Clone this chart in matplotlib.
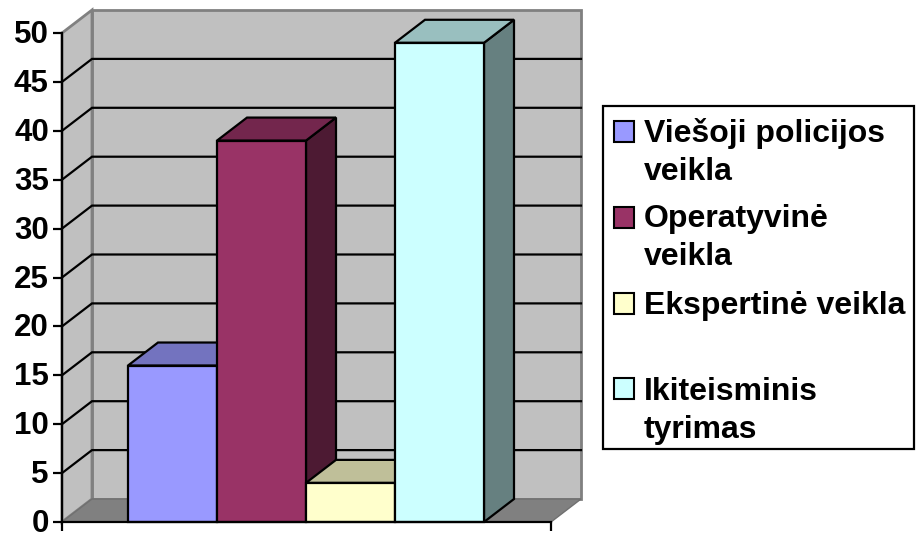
import matplotlib
matplotlib.use("Agg")
import matplotlib.pyplot as plt
from matplotlib.patches import Polygon, Rectangle
from matplotlib.transforms import ScaledTranslation

plt.rcParams['font.family'] = ['Liberation Sans', 'DejaVu Sans']

categories = ["Viešoji policijos\nveikla", "Operatyvinė\nveikla", "Ekspertinė veikla", "Ikiteisminis\ntyrimas"]
values = [16, 39, 4, 49]
front_colors = ["#9999FF", "#993366", "#FFFFCC", "#CCFFFF"]
top_colors = ["#7373BF", "#73264D", "#BFBF99", "#99BFBF"]
side_colors = ["#4D4D80", "#4D1A33", "#808066", "#668080"]
y_ticks = [0, 5, 10, 15, 20, 25, 30, 35, 40, 45, 50]

W, H = 920, 533
fig = plt.figure(figsize=(W / 100, H / 100), dpi=100)
fig.patch.set_facecolor("white")

L, R, B, T = 62, 551, 522, 33
ax = fig.add_axes([L / W, (H - B) / H, (R - L) / W, (B - T) / H])
ax.patch.set_visible(False)
unit = 89.0
xmin = -0.5 - (128 - L) / unit
xmax = xmin + (R - L) / unit
ax.set_xlim(xmin, xmax)
ax.set_ylim(0, 50)
dx = 30 / unit
dy = 23 / ((B - T) / 50)

lw = 1.6
grey = "#808080"

# back and side walls
ax.add_patch(Polygon([(xmin + dx, dy), (xmax + dx, dy), (xmax + dx, 50 + dy), (xmin + dx, 50 + dy)],
                     closed=True, fc="#C0C0C0", ec=grey, lw=2, clip_on=False, zorder=1))
ax.add_patch(Polygon([(xmin, 0), (xmin + dx, dy), (xmin + dx, 50 + dy), (xmin, 50)],
                     closed=True, fc="#C0C0C0", ec=grey, lw=2, clip_on=False, zorder=1))
# floor
ax.add_patch(Polygon([(xmin, 0), (xmax, 0), (xmax + dx, dy), (xmin + dx, dy)],
                     closed=True, fc=grey, ec="#707070", lw=1, clip_on=False, zorder=1))

# gridlines
for v in y_ticks[1:-1]:
    ax.plot([xmin, xmin + dx, xmax + dx], [v, v + dy, v + dy], color="black", lw=lw,
            clip_on=False, zorder=2, solid_joinstyle="miter")

# bars
for i, v in enumerate(values):
    z = 3 + i
    x0, x1 = i - 0.5, i + 0.5
    ax.add_patch(Polygon([(x1, 0), (x1 + dx, dy), (x1 + dx, v + dy), (x1, v)], closed=True,
                         fc=side_colors[i], ec="black", lw=lw, clip_on=False, zorder=z))
    ax.add_patch(Polygon([(x0, v), (x1, v), (x1 + dx, v + dy), (x0 + dx, v + dy)], closed=True,
                         fc=top_colors[i], ec="black", lw=lw, clip_on=False, zorder=z))
    ax.bar(i, v, width=1.0, color=front_colors[i], edgecolor="black", linewidth=lw,
           clip_on=False, zorder=z)

# axes
for s in ("top", "right"):
    ax.spines[s].set_visible(False)
for s in ("left", "bottom"):
    ax.spines[s].set_linewidth(lw)
    ax.spines[s].set_color("black")
    ax.spines[s].set_zorder(10)
ax.set_yticks(y_ticks)
ax.set_yticklabels([str(t) for t in y_ticks], fontsize=22.5, fontweight="bold", va="center_baseline")
ax.set_xticks([xmin, xmax])
ax.set_xticklabels(["", ""])
ax.tick_params(axis="both", length=6.5, width=lw, color="black")
ax.tick_params(axis="y", pad=3)
shift = ScaledTranslation(0, 1.5 / 100, fig.dpi_scale_trans)
for lab in ax.get_yticklabels():
    lab.set_transform(lab.get_transform() + shift)

# legend
def px(x, y):
    return x / W, (H - y) / H

x_l, y_t = px(603.5, 106)
x_r, y_b = px(914, 449)
fig.add_artist(Rectangle((x_l, y_b), x_r - x_l, y_t - y_b, transform=fig.transFigure,
                         fc="white", ec="black", lw=1.6, zorder=20))
swatch_tops = [121, 207, 293, 378]
baselines = [142, 227, 314, 400]
for i, label in enumerate(categories):
    sx, sy = px(614, swatch_tops[i] + 21)
    fig.add_artist(Rectangle((sx, sy), 20 / W, 21 / H, transform=fig.transFigure,
                             fc=front_colors[i], ec="black", lw=1.5, zorder=21))
    for k, line in enumerate(label.split("\n")):
        tx, ty = px(644, baselines[i] + k * 38)
        fig.text(tx, ty, line, fontsize=23, fontweight="bold", color="black",
                 ha="left", va="baseline", zorder=22)

fig.savefig("out.png", dpi=100)
